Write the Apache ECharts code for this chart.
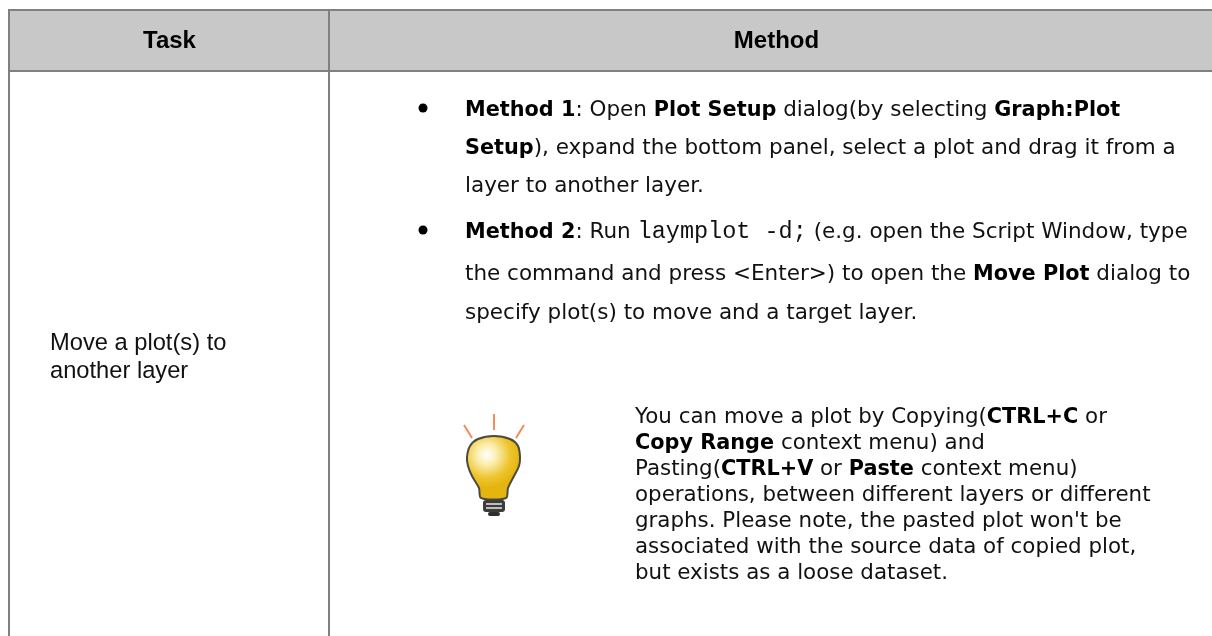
<!DOCTYPE html>
<html>
<head>
<meta charset="utf-8">
<title>Move a plot</title>
<script src="https://cdn.jsdelivr.net/npm/echarts@6/dist/echarts.min.js"></script>
<style>
html, body { margin: 0; padding: 0; background: #fff; }
#main { width: 1212px; height: 636px; }
</style>
</head>
<body>
<div id="main"></div>
<script>
const headers = ["Task", "Method"];
const taskLines = ["Move a plot(s) to", "another layer"];
// b = bold, m = monospace, plain text otherwise
const method1 = [
	[["b", "Method 1"], ["", ": Open "], ["b", "Plot Setup"], ["", " dialog(by selecting "], ["b", "Graph:Plot"]],
	[["b", "Setup"], ["", "), expand the bottom panel, select a plot and drag it from a"]],
	[["", "layer to another layer."]],
];
const method2 = [
	[["b", "Method 2"], ["", ": Run "], ["m", "laymplot -d;"], ["", " (e.g. open the Script Window, type"]],
	[["", "the command and press <Enter>) to open the "], ["b", "Move Plot"], ["", " dialog to"]],
	[["", "specify plot(s) to move and a target layer."]],
];
const tipLines = [
	[["", "You can move a plot by Copying("], ["b", "CTRL+C"], ["", " or"]],
	[["b", "Copy Range"], ["", " context menu) and"]],
	[["", "Pasting("], ["b", "CTRL+V"], ["", " or "], ["b", "Paste"], ["", " context menu)"]],
	[["", "operations, between different layers or different"]],
	[["", "graphs. Please note, the pasted plot won't be"]],
	[["", "associated with the source data of copied plot,"]],
	[["", "but exists as a loose dataset."]],
];

const BORDER = "#808080";
const BODY_FONT = '"DejaVu Sans", sans-serif';
const ARIAL = '"Liberation Sans", Arial, sans-serif';

function richLine(runs, x, y, size) {
	return {
		type: "text",
		x, y,
		style: {
			text: runs.map(([k, t]) => `{${k || "n"}|${t}}`).join(""),
			verticalAlign: "middle",
			rich: {
				n: { fontFamily: BODY_FONT, fontSize: size, fill: "#111" },
				// padding keeps the slightly smaller bold runs on the same baseline
				b: { fontFamily: BODY_FONT, fontSize: 20.8, fontWeight: "bold", fill: "#000", padding: [2, 0, 0, 0] },
				m: { fontFamily: '"Liberation Mono", monospace', fontSize: 23.5, fill: "#111" },
			},
		},
	};
}

function hline(x1, x2, y) {
	return { type: "rect", shape: { x: x1, y, width: x2 - x1, height: 2 }, style: { fill: BORDER } };
}
function vline(x, y1, y2) {
	return { type: "rect", shape: { x, y: y1, width: 2, height: y2 - y1 }, style: { fill: BORDER } };
}
function bullet(cx, cy) {
	return { type: "circle", shape: { cx, cy, r: 4.5 }, style: { fill: "#000" } };
}
function ray(x1, y1, x2, y2) {
	return { type: "line", shape: { x1, y1, x2, y2 }, style: { stroke: "#f58a5c", lineWidth: 2 } };
}
function headerText(text, x) {
	return { type: "text", x, y: 41, style: { text, align: "center", verticalAlign: "middle", fontFamily: ARIAL, fontSize: 24, fontWeight: "bold", fill: "#000" } };
}
function taskText(text, y) {
	return { type: "text", x: 50, y, style: { text, verticalAlign: "middle", fontFamily: ARIAL, fontSize: 23.7, fill: "#111" } };
}

const elements = [
	{ type: "rect", shape: { x: 8, y: 9, width: 1204, height: 62 }, style: { fill: "#c8c8c8" } },
	hline(8, 1212, 9),
	hline(8, 1212, 70),
	vline(8, 9, 636),
	vline(328, 9, 636),
	headerText(headers[0], 169.5),
	headerText(headers[1], 776.5),
	taskText(taskLines[0], 343),
	taskText(taskLines[1], 371),
	bullet(423, 108),
	bullet(423, 230),
	// light bulb
	ray(494, 414, 494, 430),
	ray(464, 425, 472, 438),
	ray(524, 425, 516, 438),
	{
		type: "polygon",
		shape: {
			points: [[481, 498], [479, 488], [472, 476], [468, 466], [467, 457], [470, 446], [478, 439], [494, 436], [510, 439], [518, 446], [520, 457], [519, 466], [514, 476], [508, 488], [506, 498]],
			smooth: 0.3,
		},
		style: {
			fill: { type: "radial", x: 0.38, y: 0.3, r: 0.6, colorStops: [
				{ offset: 0, color: "#ffffff" }, { offset: 0.3, color: "#fbeeb0" },
				{ offset: 0.7, color: "#eec530" }, { offset: 1, color: "#e5b50f" },
			] },
			stroke: "#4a4a40", lineWidth: 2,
		},
	},
	{ type: "rect", shape: { x: 483, y: 500, width: 22, height: 12, r: 3 }, style: { fill: "#3c3c3c" } },
	{ type: "rect", shape: { x: 486, y: 503, width: 16, height: 2 }, style: { fill: "#bdbdbd" } },
	{ type: "rect", shape: { x: 486, y: 507, width: 16, height: 2 }, style: { fill: "#bdbdbd" } },
	{ type: "rect", shape: { x: 488, y: 512, width: 12, height: 4, r: 2 }, style: { fill: "#2e2e2e" } },
];

[116, 154, 192].forEach((y, i) => elements.push(richLine(method1[i], 465, y - 6, 21.5)));
[238, 280, 319].forEach((y, i) => elements.push(richLine(method2[i], 465, y - 6, 21.5)));
[423, 449, 475, 501, 527, 553, 579].forEach((y, i) => elements.push(richLine(tipLines[i], 635, y - 6, 21.4)));

const chart = echarts.init(document.getElementById("main"), null, { renderer: "canvas" });
chart.setOption({
	animation: false,
	backgroundColor: "#fff",
	graphic: { elements },
});
</script>
</body>
</html>
